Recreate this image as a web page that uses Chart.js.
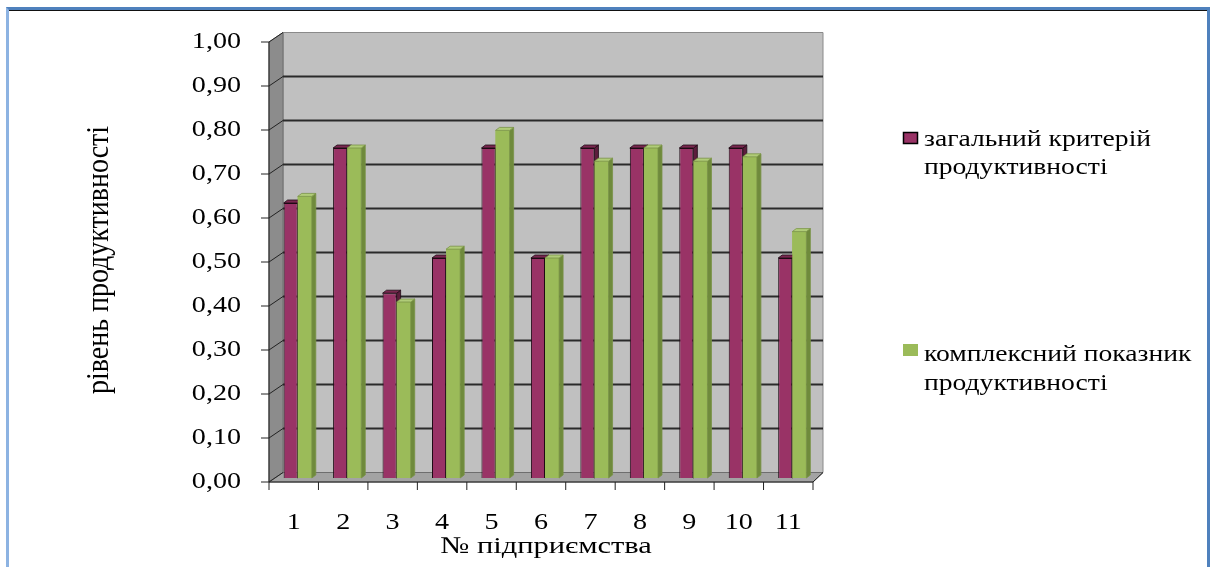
<!DOCTYPE html>
<html>
<head>
<meta charset="utf-8">
<script src="https://cdn.jsdelivr.net/npm/chart.js@4.4.1/dist/chart.umd.min.js"></script>
<style>
  html, body { margin: 0; padding: 0; background: #ffffff; }
  #wrap { position: relative; width: 1215px; height: 567px; overflow: hidden; }
  #frame {
    position: absolute; left: 6px; top: 7px; width: 1198px; height: 600px;
    border: 3px solid #4f81bd; border-bottom: none; border-left-color: #8db3e2;
    box-shadow: inset 0 1px 0 #111;
    pointer-events: none;
  }
  canvas { position: absolute; left: 0; top: 0; }
</style>
</head>
<body>
<div id="wrap">
  <canvas id="chart" width="1215" height="567"></canvas>
  <div id="frame"></div>
</div>
<script>
// Enterprise numbers along the horizontal axis
const enterprises = ['1', '2', '3', '4', '5', '6', '7', '8', '9', '10', '11'];

// General productivity criterion per enterprise
const generalCriterion = [0.625, 0.75, 0.42, 0.50, 0.75, 0.50, 0.75, 0.75, 0.75, 0.75, 0.50];

// Complex productivity indicator per enterprise
const complexIndicator = [0.64, 0.75, 0.40, 0.52, 0.79, 0.50, 0.72, 0.75, 0.72, 0.73, 0.56];

// Series names (legend lines)
const seriesNames = [
  ['загальний критерій', 'продуктивності'],
  ['комплексний показник', 'продуктивності']
];

// Value axis ticks
const yTickValues = [0, 0.1, 0.2, 0.3, 0.4, 0.5, 0.6, 0.7, 0.8, 0.9, 1.0];
const yTickLabels = ['0,00', '0,10', '0,20', '0,30', '0,40', '0,50', '0,60', '0,70', '0,80', '0,90', '1,00'];

const xTitle = '№ підприємства';
const yTitle = 'рівень продуктивності';

const FONT = '"Liberation Serif", "Times New Roman", serif';
const BAR_DX = 4, BAR_DY = 3;   // bar depth

// Oblique planes around the bar plane
const FRONT_DX = -4, FRONT_DY = 4;
const BACK_DX_L = 10, BACK_DX_R = 6, BACK_DY = -5.5;

// Text drawn slightly widened, as in the printed chart
function wideText(ctx, text, x, y, align, size, stretch) {
  ctx.save();
  ctx.font = size + 'px ' + FONT;
  ctx.fillStyle = '#000';
  ctx.textBaseline = 'middle';
  ctx.translate(x, y);
  ctx.scale(stretch, 1);
  ctx.textAlign = align;
  ctx.fillText(text, 0, 0);
  ctx.restore();
}

function poly(ctx, pts, fill, stroke, lw) {
  ctx.beginPath();
  ctx.moveTo(pts[0][0], pts[0][1]);
  for (let i = 1; i < pts.length; i++) ctx.lineTo(pts[i][0], pts[i][1]);
  ctx.closePath();
  if (fill) { ctx.fillStyle = fill; ctx.fill(); }
  if (stroke) { ctx.strokeStyle = stroke; ctx.lineWidth = lw || 1; ctx.stroke(); }
}

const chamberPlugin = {
  id: 'chamber',
  beforeDatasetsDraw(chart) {
    const ctx = chart.ctx;
    const a = chart.chartArea;
    const ys = chart.scales.y;
    const xs = chart.scales.x;

    const fL = a.left + FRONT_DX, fR = a.right + FRONT_DX;
    const bL = a.left + BACK_DX_L, bR = a.right + BACK_DX_R;
    const fy = v => ys.getPixelForValue(v) + FRONT_DY;
    const by = v => ys.getPixelForValue(v) + BACK_DY;

    ctx.save();
    // back wall
    poly(ctx, [[bL, by(1)], [bR, by(1)], [bR, by(0)], [bL, by(0)]], '#c0c0c0', '#8a8a8a', 1);
    // left side wall
    poly(ctx, [[fL, fy(1)], [bL, by(1)], [bL, by(0)], [fL, fy(0)]], '#8c8c8c', '#6e6e6e', 1);
    // floor
    poly(ctx, [[fL, fy(0)], [bL, by(0)], [bR, by(0)], [fR, fy(0)]], '#a3a3a3', '#6e6e6e', 1);

    // grid lines on the back wall and the side wall
    ctx.lineWidth = 1.8;
    ctx.strokeStyle = '#2a2a2a';
    yTickValues.forEach(v => {
      if (v > 0 && v < 1) {
        ctx.beginPath();
        ctx.moveTo(bL, by(v)); ctx.lineTo(bR, by(v));
        ctx.stroke();
      }
    });
    ctx.lineWidth = 1;
    ctx.strokeStyle = '#222';
    yTickValues.forEach(v => {
      ctx.beginPath();
      ctx.moveTo(fL - 8, fy(v)); ctx.lineTo(fL, fy(v)); ctx.lineTo(bL, by(v));
      ctx.stroke();
    });
    // front vertical axis
    ctx.beginPath();
    ctx.moveTo(fL, fy(1)); ctx.lineTo(fL, fy(0));
    ctx.stroke();
    // front horizontal axis and category ticks
    ctx.beginPath();
    ctx.moveTo(fL, fy(0)); ctx.lineTo(fR, fy(0)); ctx.lineTo(bR, by(0));
    ctx.stroke();
    const n = enterprises.length;
    for (let k = 0; k <= n; k++) {
      let x;
      if (k === 0) x = a.left;
      else if (k === n) x = a.right;
      else x = (xs.getPixelForValue(k - 1) + xs.getPixelForValue(k)) / 2;
      x += FRONT_DX;
      ctx.beginPath();
      ctx.moveTo(x, fy(0)); ctx.lineTo(x, fy(0) + 8);
      ctx.stroke();
    }
    ctx.restore();

    // tick labels
    yTickValues.forEach((v, i) => wideText(ctx, yTickLabels[i], 241, fy(v), 'right', 24, 1.17));
    enterprises.forEach((c, i) => wideText(ctx, c, xs.getPixelForValue(i) + FRONT_DX, 523, 'center', 24, 1.17));

    // axis titles
    wideText(ctx, xTitle, 546, 547, 'center', 24, 1.27);
    ctx.save();
    ctx.font = '28px ' + FONT;
    ctx.fillStyle = '#000';
    ctx.textBaseline = 'middle';
    ctx.textAlign = 'center';
    ctx.translate(100, 260);
    ctx.rotate(-Math.PI / 2);
    ctx.scale(1, 1.15);
    ctx.fillText(yTitle, 0, 0);
    ctx.restore();
  },
  afterDatasetsDraw(chart) {
    const ctx = chart.ctx;
    const m0 = chart.getDatasetMeta(0).data;
    const m1 = chart.getDatasetMeta(1).data;
    const faces = chart.data.datasets.map(d => d.faces);
    ctx.save();
    for (let i = 0; i < m0.length; i++) {
      [[m0[i], 0], [m1[i], 1]].forEach(([bar, di]) => {
        const p = bar.getProps(['x', 'y', 'width', 'base'], true);
        const l = p.x - p.width / 2, r = p.x + p.width / 2;
        const f = faces[di];
        if (di === 1) {
          ctx.fillStyle = chart.data.datasets[1].backgroundColor;
          ctx.fillRect(l, p.y, p.width, p.base - p.y);
        }
        poly(ctx, [[r, p.y], [r + BAR_DX, p.y - BAR_DY], [r + BAR_DX, p.base - BAR_DY], [r, p.base]], f.side, f.edge, 0.8);
        poly(ctx, [[l, p.y], [l + BAR_DX, p.y - BAR_DY], [r + BAR_DX, p.y - BAR_DY], [r, p.y]], f.top, f.edge, 0.8);
      });
    }
    ctx.restore();
  },
  afterDraw(chart) {
    const ctx = chart.ctx;
    // [marker x, marker centre y, first line y, second line y]
    const spots = [[903, 138, 140, 168], [903, 350, 355, 384]];
    chart.data.datasets.forEach((ds, i) => {
      const [sx, sy, l1, l2] = spots[i];
      ctx.save();
      ctx.fillStyle = ds.backgroundColor;
      ctx.fillRect(sx, sy - 6, 15, 12);
      if (ds.borderWidth) {
        ctx.strokeStyle = '#000';
        ctx.lineWidth = 1.5;
        ctx.strokeRect(sx + 0.5, sy - 5.5, 14, 11);
      }
      ctx.restore();
      wideText(ctx, seriesNames[i][0], 924, l1, 'left', 24, 1.15);
      wideText(ctx, seriesNames[i][1], 924, l2, 'left', 24, 1.15);
    });
  }
};

new Chart(document.getElementById('chart'), {
  type: 'bar',
  data: {
    labels: enterprises,
    datasets: [
      {
        label: seriesNames[0].join(' '),
        data: generalCriterion,
        backgroundColor: '#993366',
        borderColor: '#1e0b15',
        borderWidth: 1,
        faces: { side: '#5c1d3c', top: '#7a2850', edge: '#1e0b15' }
      },
      {
        label: seriesNames[1].join(' '),
        data: complexIndicator,
        backgroundColor: '#9bbb59',
        borderWidth: 0,
        faces: { side: '#6f8a3c', top: '#b0cc78', edge: '#7a9346' }
      }
    ]
  },
  options: {
    responsive: false,
    animation: false,
    layout: { padding: { left: 273, right: 398, top: 38, bottom: 89 } },
    datasets: { bar: { categoryPercentage: 0.57, barPercentage: 1.0 } },
    scales: {
      x: { display: false, offset: true },
      y: { display: false, min: 0, max: 1 }
    },
    plugins: { legend: { display: false }, tooltip: { enabled: false } }
  },
  plugins: [chamberPlugin]
});
</script>
</body>
</html>
